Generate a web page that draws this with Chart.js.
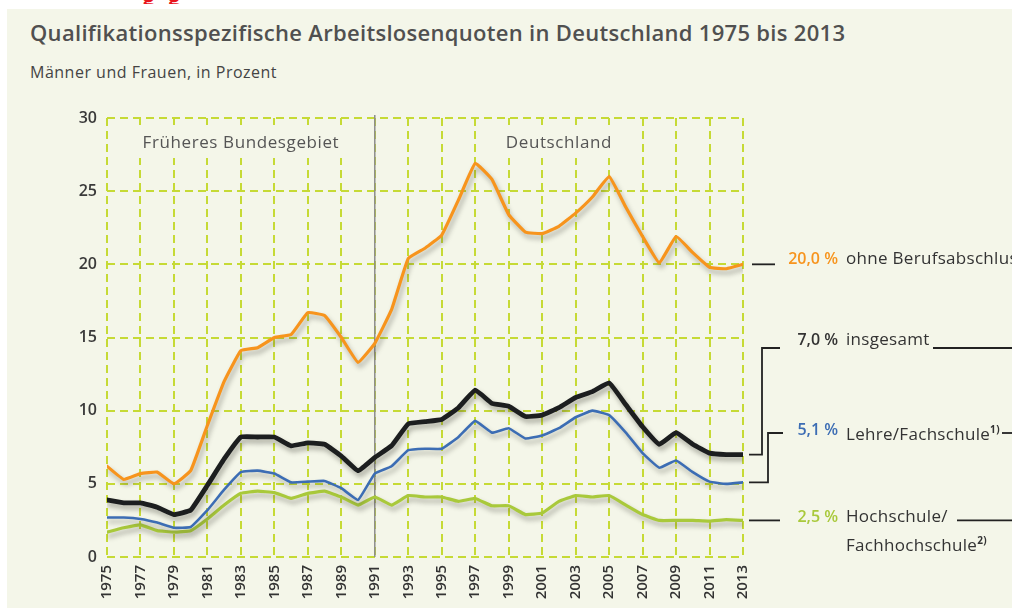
<!DOCTYPE html>
<html lang="de">
<head>
<meta charset="utf-8">
<title>Qualifikationsspezifische Arbeitslosenquoten</title>
<script src="https://cdn.jsdelivr.net/npm/chart.js@4.4.1/dist/chart.umd.min.js"></script>
<style>
    html, body { margin: 0; padding: 0; background: #fff; }
    #wrap { position: relative; width: 1012px; height: 610px; overflow: hidden; font-family: 'Open Sans', sans-serif; }
    #panel { position: absolute; left: 7px; top: 9px; right: 0; bottom: 2px; background: #f4f6e9; }
    #chart { position: absolute; left: 0; top: 0; }
    #cut { position: absolute; left: 140px; top: 0; width: 60px; height: 4px; overflow: hidden; }
    #cut span { position: absolute; top: -20px; left: 2px; font: bold 24px 'Open Sans', sans-serif; color: #e8141c; letter-spacing: 12px; }
    h1 { position: absolute; left: 30px; top: 17px; margin: 0; font-size: 22px; font-weight: 600; color: #505050; white-space: nowrap; letter-spacing: 0.3px; }
    .sub { position: absolute; left: 30px; top: 61px; font-size: 16px; color: #444; white-space: nowrap; letter-spacing: 0.5px; }
    .val { position: absolute; left: 758px; width: 80px; text-align: right; font-size: 16px; font-weight: 600; line-height: 20px; }
    .name { position: absolute; left: 846px; font-size: 17px; color: #333; line-height: 20px; white-space: nowrap; letter-spacing: 0.3px; }
    .name sup { font-size: 10px; font-weight: 700; }
</style>
</head>
<body>
<div id="wrap">
    <div id="panel"></div>
    <div id="cut"><span>gg</span></div>
    <h1>Qualifikationsspezifische Arbeitslosenquoten in Deutschland 1975 bis 2013</h1>
    <div class="sub">Männer und Frauen, in Prozent</div>
    <canvas id="chart" width="1012" height="610"></canvas>

    <div class="val" style="top:248px;color:#f7941d">20,0 %</div>
    <div class="name" style="top:248px">ohne Berufsabschluss</div>
    <div class="val" style="top:329px;color:#333">7,0 %</div>
    <div class="name" style="top:329px">insgesamt</div>
    <div class="val" style="top:419px;color:#3c6db4">5,1 %</div>
    <div class="name" style="top:419px">Lehre/Fachschule<sup>1)</sup></div>
    <div class="val" style="top:506px;color:#a9c93b">2,5 %</div>
    <div class="name" style="top:506px">Hochschule/</div>
    <div class="name" style="top:530px">Fachhochschule<sup>2)</sup></div>
</div>
<script>
(function () {
    // ── Daten ──────────────────────────────────────────────
    const years = [
        1975, 1976, 1977, 1978, 1979, 1980, 1981, 1982, 1983, 1984,
        1985, 1986, 1987, 1988, 1989, 1990, 1991, 1992, 1993, 1994,
        1995, 1996, 1997, 1998, 1999, 2000, 2001, 2002, 2003, 2004,
        2005, 2006, 2007, 2008, 2009, 2010, 2011, 2012, 2013
    ];
    const ohneAbschluss = [
        6.2, 5.3, 5.7, 5.8, 5.0, 5.9, 9.0, 12.0, 14.1, 14.3,
        15.0, 15.2, 16.7, 16.5, 15.0, 13.3, 14.6, 16.9, 20.4, 21.1,
        22.0, 24.4, 26.9, 25.8, 23.4, 22.2, 22.1, 22.6, 23.5, 24.6,
        26.0, 23.9, 21.9, 20.1, 21.9, 20.8, 19.8, 19.7, 20.0
    ];
    const insgesamt = [
        3.9, 3.7, 3.7, 3.4, 2.9, 3.2, 4.9, 6.7, 8.2, 8.2,
        8.2, 7.6, 7.8, 7.7, 6.9, 5.9, 6.8, 7.6, 9.1, 9.25,
        9.4, 10.2, 11.4, 10.5, 10.3, 9.6, 9.7, 10.2, 10.9, 11.3,
        11.9, 10.4, 8.9, 7.7, 8.5, 7.7, 7.1, 7.0, 7.0
    ];
    const lehre = [
        2.7, 2.7, 2.6, 2.35, 2.0, 2.05, 3.2, 4.6, 5.8, 5.9,
        5.7, 5.1, 5.15, 5.2, 4.7, 3.9, 5.7, 6.2, 7.3, 7.4,
        7.4, 8.2, 9.3, 8.5, 8.8, 8.1, 8.3, 8.8, 9.55, 10.0,
        9.7, 8.5, 7.1, 6.1, 6.6, 5.8, 5.15, 5.0, 5.1
    ];
    const hochschule = [
        1.7, 2.0, 2.2, 1.8, 1.7, 1.8, 2.6, 3.55, 4.35, 4.5,
        4.4, 4.0, 4.35, 4.5, 4.1, 3.55, 4.1, 3.55, 4.2, 4.1,
        4.1, 3.8, 4.0, 3.5, 3.5, 2.9, 3.0, 3.8, 4.2, 4.1,
        4.2, 3.55, 2.9, 2.5, 2.5, 2.5, 2.45, 2.55, 2.5
    ];
    const regionNames = ['Früheres Bundesgebiet', 'Deutschland'];
    const regionSpans = [[1976, 1990], [1998, 2006]];
    const dividerYear = 1991;

    // ── Farben ─────────────────────────────────────────────
    const BG = '#f4f6e9';
    const GRID = '#c6da35';
    const ORANGE = '#f7941d';
    const BLACK = '#1c1e1f';
    const BLUE = '#3c6db4';
    const GREEN = '#a9c93b';

    const pts = vals => years.map((yr, i) => ({ x: yr, y: vals[i] }));

    // ── Plugin: Bereiche, Trennlinie, Schatten, Verbinder ──
    const decor = {
        id: 'decor',
        beforeDatasetsDraw(chart) {
            const { ctx, chartArea: a, scales: { x } } = chart;
            ctx.save();
            regionSpans.forEach((span, i) => {
                const x0 = x.getPixelForValue(span[0]);
                const x1 = x.getPixelForValue(span[1]);
                ctx.fillStyle = BG;
                ctx.fillRect(x0, a.top + 7, x1 - x0, 33);
                ctx.fillStyle = '#555';
                ctx.font = '500 17px "Open Sans", sans-serif';
                ctx.letterSpacing = '0.6px';
                ctx.textAlign = 'center';
                ctx.textBaseline = 'middle';
                ctx.fillText(regionNames[i], (x0 + x1) / 2, a.top + 25);
            });
            const xd = x.getPixelForValue(dividerYear);
            ctx.strokeStyle = '#8c8c8c';
            ctx.lineWidth = 1.5;
            ctx.beginPath();
            ctx.moveTo(xd, a.top - 3);
            ctx.lineTo(xd, a.bottom);
            ctx.stroke();
            ctx.restore();
        },
        beforeDatasetDraw(chart) {
            const ctx = chart.ctx;
            ctx.save();
            ctx.shadowColor = 'rgba(60,60,50,0.4)';
            ctx.shadowBlur = 5;
            ctx.shadowOffsetX = 2;
            ctx.shadowOffsetY = 4;
        },
        afterDatasetDraw(chart) {
            chart.ctx.restore();
        },
        afterDraw(chart) {
            const { ctx, chartArea: a, scales: { y } } = chart;
            const last = arr => y.getPixelForValue(arr[arr.length - 1]);
            const x0 = a.right + 6;
            ctx.save();
            ctx.strokeStyle = '#222';
            ctx.lineWidth = 1.8;
            const seg = points => {
                ctx.beginPath();
                points.forEach((p, i) => i ? ctx.lineTo(p[0], p[1]) : ctx.moveTo(p[0], p[1]));
                ctx.stroke();
            };
            const yo = last(ohneAbschluss);
            seg([[x0 + 3, yo], [x0 + 26, yo]]);
            const yi = last(insgesamt);
            seg([[x0, yi], [762, yi], [762, 348], [780, 348]]);
            seg([[933, 348], [1012, 348]]);
            const yl = last(lehre);
            seg([[x0, yl], [768, yl], [768, 433], [783, 433]]);
            seg([[1002, 433], [1012, 433]]);
            const yh = last(hochschule);
            seg([[x0, yh], [780, yh]]);
            seg([[957, yh], [1012, yh]]);
            ctx.restore();
        }
    };

    const line = (label, vals, color, width) => ({
        label,
        data: pts(vals),
        borderColor: color,
        backgroundColor: color,
        borderWidth: width,
        pointRadius: 0,
        tension: 0.1,
        borderJoinStyle: 'round',
        borderCapStyle: 'round'
    });

    new Chart(document.getElementById('chart'), {
        type: 'line',
        data: {
            datasets: [
                line('ohne Berufsabschluss', ohneAbschluss, ORANGE, 3.2),
                line('insgesamt', insgesamt, BLACK, 4.8),
                line('Lehre/Fachschule', lehre, BLUE, 2.6),
                line('Hochschule/Fachhochschule', hochschule, GREEN, 3.2)
            ]
        },
        options: {
            responsive: false,
            animation: false,
            layout: { padding: { left: 0, top: 118, right: 269, bottom: 0 } },
            plugins: {
                legend: { display: false },
                tooltip: { enabled: false }
            },
            scales: {
                x: {
                    type: 'linear',
                    min: 1975,
                    max: 2013,
                    afterFit: s => { s.height = 53; },
                    grid: { color: GRID, lineWidth: 2, drawTicks: false },
                    border: { display: false, dash: [8, 5] },
                    ticks: {
                        stepSize: 2,
                        autoSkip: false,
                        maxRotation: 90,
                        minRotation: 90,
                        padding: 8,
                        color: '#333',
                        font: { family: "'Open Sans', sans-serif", size: 15, weight: '600' },
                        callback: v => String(v)
                    }
                },
                y: {
                    min: 0,
                    max: 30,
                    afterFit: s => { s.width = 107; },
                    grid: { color: GRID, lineWidth: 2, drawTicks: false },
                    border: { display: false, dash: [8, 5] },
                    ticks: {
                        stepSize: 5,
                        padding: 10,
                        color: '#3a3a3a',
                        font: { family: "'Open Sans', sans-serif", size: 16, weight: '600' }
                    }
                }
            }
        },
        plugins: [decor]
    });
})();
</script>
</body>
</html>
